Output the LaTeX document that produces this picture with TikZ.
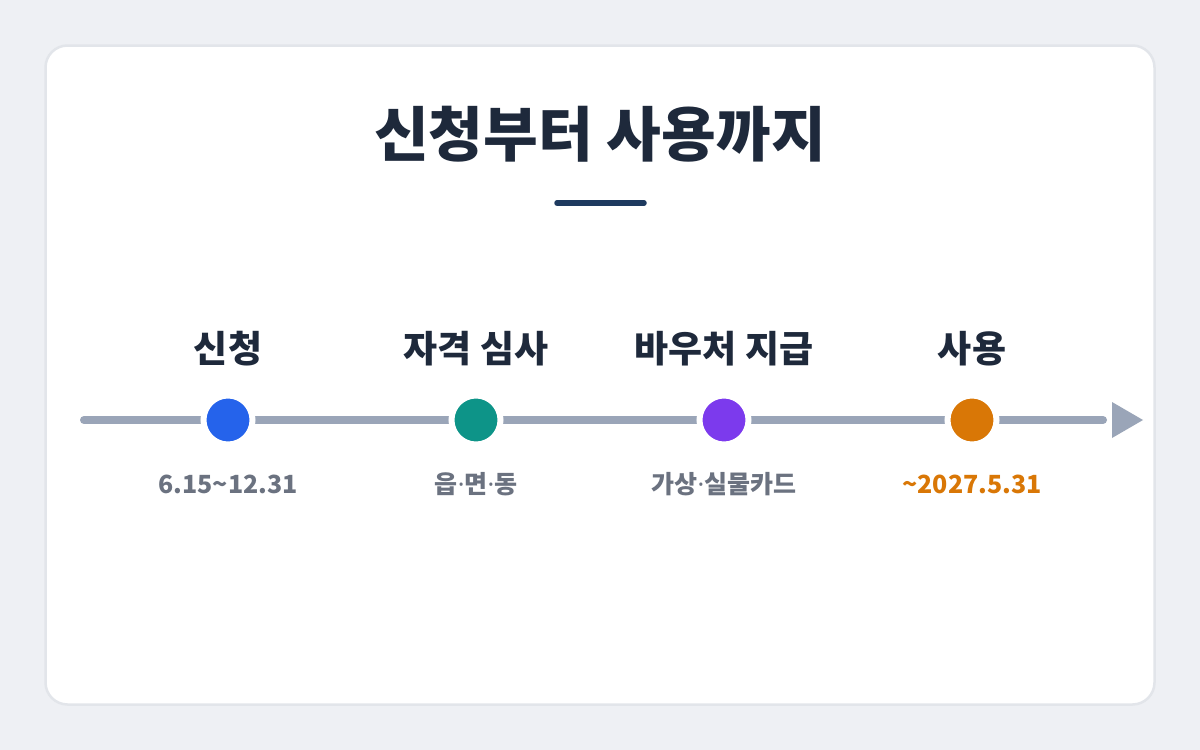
\documentclass[tikz,border=0pt]{standalone}
\usepackage{fontspec}
\newfontfamily\kr{Noto Sans CJK KR}
\newfontfamily\lat{Noto Sans}
\usetikzlibrary{backgrounds}
\definecolor{bgc}{HTML}{EEF0F4}
\definecolor{cardline}{HTML}{E2E5EA}
\definecolor{ink}{HTML}{1E293B}
\definecolor{navy}{HTML}{1E3A5F}
\definecolor{track}{HTML}{9AA5B8}
\definecolor{sub}{HTML}{6B7280}
\definecolor{cblue}{HTML}{2563EB}
\definecolor{cteal}{HTML}{0D9488}
\definecolor{cpurple}{HTML}{7C3AED}
\definecolor{corange}{HTML}{D97706}
\newcommand{\md}{{\lat\bfseries ·}}
\begin{document}
\begin{tikzpicture}[x=1pt,y=-1pt,
  titletext/.style={font=\kr\bfseries\fontsize{59.5}{64}\selectfont, text=ink, inner sep=0},
  steptitle/.style={font=\kr\bfseries\fontsize{37}{40}\selectfont, text=ink, inner sep=0},
  stepsub/.style={font=\kr\bfseries\fontsize{25}{28}\selectfont, text=sub, inner sep=0},
  dot/.style={circle, minimum size=49pt, inner sep=0, draw=white, line width=6pt},
  tl/.style={draw=track, line width=8pt, line cap=round}]
\useasboundingbox (0,0) rectangle (1200,750);
\begin{scope}[on background layer]
\fill[bgc] (0,0) rectangle (1200,750);
\draw[fill=white, draw=cardline, line width=2.5pt, rounded corners=22pt] (45.5,45.5) rectangle (1154.5,704.5);
\end{scope}
\node[titletext] (title) at (600,134) {신청부터 사용까지};
\coordinate (ul1) at (557,203);
\coordinate (ul2) at (644,203);
\draw[navy, line width=5.5pt, line cap=round] (ul1) -- (ul2);
\coordinate (s) at (84,420);
\coordinate (e) at (1103,420);
\node[dot, fill=cblue] (n1) at (228,420) {};
\node[dot, fill=cteal] (n2) at (476,420) {};
\node[dot, fill=cpurple] (n3) at (724,420) {};
\node[dot, fill=corange] (n4) at (972,420) {};
\begin{scope}[on background layer]
\draw[tl] (s) -- (n1);
\draw[tl] (n1) -- (n2);
\draw[tl] (n2) -- (n3);
\draw[tl] (n3) -- (n4);
\draw[tl] (n4) -- (e);
\end{scope}
\fill[track] (1112,402) -- (1143,420) -- (1112,438) -- cycle;
\node[steptitle] (t1) at (228,349) {신청};
\node[steptitle] (t2) at (476,349) {자격 심사};
\node[steptitle] (t3) at (724,349) {바우처 지급};
\node[steptitle] (t4) at (972,349) {사용};
\node[stepsub] (b1) at (228,484) {6.15\textasciitilde12.31};
\node[stepsub] (b2) at (476,484) {읍\md 면\md 동};
\node[stepsub] (b3) at (724,484) {가상\md 실물카드};
\node[stepsub, text=corange] (b4) at (972,484) {\textasciitilde2027.5.31};
\end{tikzpicture}
\end{document}
